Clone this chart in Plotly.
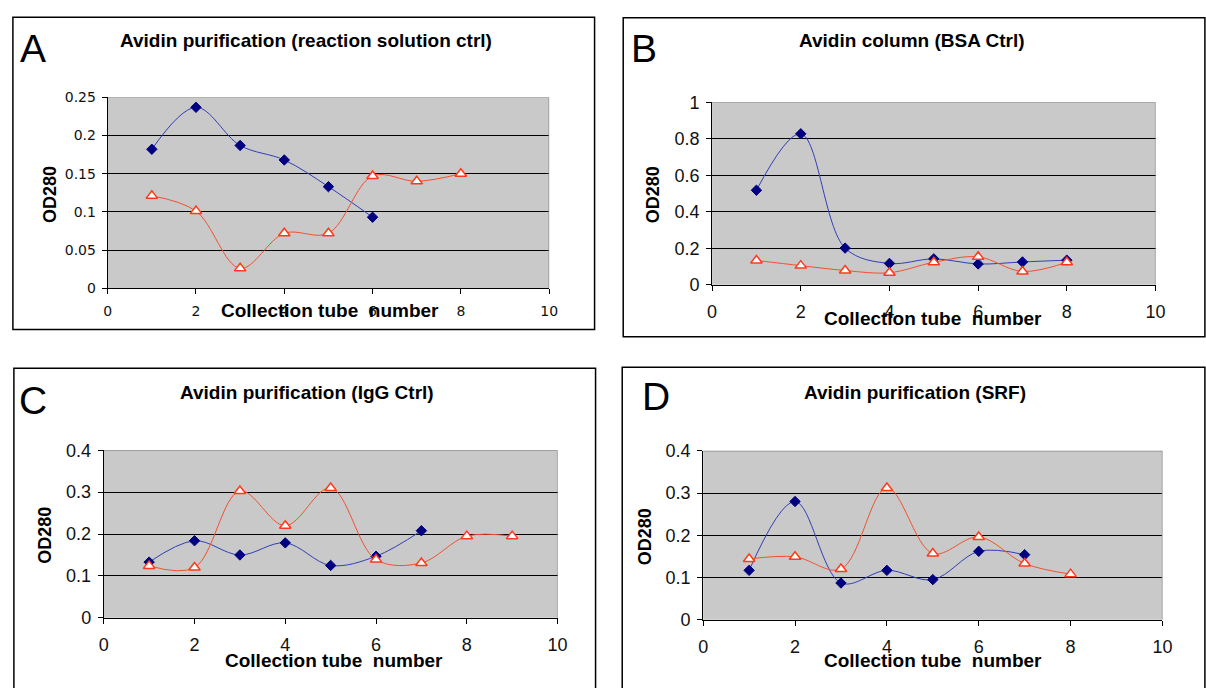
import plotly.graph_objects as go

W, H = 1206, 688

# ---------------- data ----------------
tubes_a_blue = [1, 2, 3, 4, 5, 6]
a_blue = [0.182, 0.237, 0.187, 0.168, 0.133, 0.093]
tubes_a_red = [1, 2, 3, 4, 5, 6, 7, 8]
a_red = [0.121, 0.101, 0.026, 0.072, 0.072, 0.147, 0.140, 0.150]

tubes_b = [1, 2, 3, 4, 5, 6, 7, 8]
b_blue = [0.518, 0.827, 0.201, 0.117, 0.142, 0.114, 0.125, 0.135]
b_red = [0.133, 0.105, 0.078, 0.066, 0.123, 0.153, 0.073, 0.123]

tubes_c_blue = [1, 2, 3, 4, 5, 6, 7]
c_blue = [0.133, 0.184, 0.150, 0.179, 0.125, 0.147, 0.208]
tubes_c_red = [1, 2, 3, 4, 5, 6, 7, 8, 9]
c_red = [0.124, 0.120, 0.303, 0.220, 0.310, 0.139, 0.131, 0.195, 0.195]

tubes_d_blue = [1, 2, 3, 4, 5, 6, 7]
d_blue = [0.117, 0.280, 0.087, 0.117, 0.095, 0.162, 0.154]
tubes_d_red = [1, 2, 3, 4, 5, 6, 7, 8]
d_red = [0.144, 0.149, 0.120, 0.312, 0.157, 0.196, 0.133, 0.108]

panel_letters = ["A", "B", "C", "D"]
panel_titles = ["Avidin purification (reaction solution ctrl)",
                "Avidin column (BSA Ctrl)",
                "Avidin purification (IgG Ctrl)",
                "Avidin purification (SRF)"]
x_title = "Collection tube&nbsp; number"
y_title = "OD280"
x_ticks = [0, 2, 4, 6, 8, 10]
y_ticks = [
    [0, 0.05, 0.1, 0.15, 0.2, 0.25],
    [0, 0.2, 0.4, 0.6, 0.8, 1],
    [0, 0.1, 0.2, 0.3, 0.4],
    [0, 0.1, 0.2, 0.3, 0.4],
]
y_tick_text = [
    ["0", "0.05", "0.1", "0.15", "0.2", "0.25"],
    ["0", "0.2", "0.4", "0.6", "0.8", "1"],
    ["0", "0.1", "0.2", "0.3", "0.4"],
    ["0", "0.1", "0.2", "0.3", "0.4"],
]

# ---------------- layout geometry (pixels) ----------------
# plot areas: left, right, top, bottom
areas = [
    (104, 551, 90, 286.5),
    (716, 1165, 95, 283),
    (100, 559.5, 453.5, 626),
    (707, 1172, 454, 628),
]
boxes = [
    (8, 597, 7.5, 329),
    (626, 1215, 8, 336.5),
    (9, 598, 369, 700),
    (625, 1215, 368, 700),
]

def px(x):
    return x / W

def py(y):
    return 1 - y / H

BLUE_M = "#000080"
BLUE_L = "#2F3FB5"
RED = "#FF3A1C"
RED_L = "#F2502E"
BG = "#C9C9C9"
FONT = "Liberation Sans"

fig = go.Figure()

series = [
    (tubes_a_blue, a_blue, tubes_a_red, a_red),
    (tubes_b, b_blue, tubes_b, b_red),
    (tubes_c_blue, c_blue, tubes_c_red, c_red),
    (tubes_d_blue, d_blue, tubes_d_red, d_red),
]

for i, (xb, yb, xr, yr) in enumerate(series):
    sfx = "" if i == 0 else str(i + 1)
    xa, ya = "x" + sfx, "y" + sfx
    fig.add_trace(go.Scatter(
        x=xb, y=yb, xaxis=xa, yaxis=ya, mode="lines+markers",
        line=dict(color=BLUE_L, width=1, shape="spline", smoothing=1.0),
        marker=dict(symbol="diamond", size=8, color=BLUE_M,
                    line=dict(color=BLUE_M, width=1)),
        showlegend=False, hoverinfo="skip"))
    fig.add_trace(go.Scatter(
        x=xr, y=yr, xaxis=xa, yaxis=ya, mode="lines+markers",
        line=dict(color=RED_L, width=1, shape="spline", smoothing=1.0),
        marker=dict(symbol="triangle-up", size=10, color="white",
                    line=dict(color=RED, width=1.5)),
        showlegend=False, hoverinfo="skip"))

layout = dict(
    width=W, height=H,
    margin=dict(l=0, r=0, t=0, b=0),
    paper_bgcolor="white",
    plot_bgcolor=BG,
    font=dict(family=FONT, color="black"),
)

shapes = []
annotations = []
letter_pos = [(13, 40), (632, 40), (12, 402), (643, 398)]
title_pos = [(304.5, 31), (918.6, 31), (306, 393.5), (921, 393.5)]
ytitle_pos = [(46, 190), (657, 190), (41, 541), (648, 542)]
xtitle_pos = [(329, 310), (940, 318), (333, 670), (940, 670)]

for i in range(4):
    sfx = "" if i == 0 else str(i + 1)
    l, r, t, b = areas[i]
    tick_size = 14 if i == 0 else 18
    tick_family = "DejaVu Sans" if i == 0 else FONT
    ymax = y_ticks[i][-1]
    layout["xaxis" + sfx] = dict(
        domain=[px(l), px(r)], anchor="y" + sfx, range=[0, 10],
        tickmode="array", tickvals=x_ticks, ticks="outside", ticklen=5,
        tickcolor="black", showline=True, linecolor="black", linewidth=1,
        showgrid=False, zeroline=False,
        ticklabelstandoff=5 if i == 0 else 6,
        tickfont=dict(size=tick_size, family=tick_family, color="#111"),
    )
    layout["yaxis" + sfx] = dict(
        domain=[py(b), py(t)], anchor="x" + sfx, range=[0, ymax],
        tickmode="array", tickvals=y_ticks[i], ticktext=y_tick_text[i],
        ticks="outside", ticklen=5, tickcolor="black",
        showline=True, linecolor="black", linewidth=1,
        showgrid=True, gridcolor="black", gridwidth=1, zeroline=False,
        ticklabelstandoff=3,
        tickfont=dict(size=tick_size, family=tick_family, color="#111"),
    )
    # plot area top / right edges (gray)
    shapes.append(dict(type="line", xref="x" + sfx, yref="y" + sfx,
                       x0=0, x1=10, y0=ymax, y1=ymax, layer="above",
                       line=dict(color="#8A8A8A", width=1.2)))
    shapes.append(dict(type="line", xref="x" + sfx, yref="y" + sfx,
                       x0=10, x1=10, y0=0, y1=ymax, layer="above",
                       line=dict(color="#8A8A8A", width=1.2)))
    # panel border
    bx0, bx1, by0, by1 = boxes[i]
    shapes.append(dict(type="rect", xref="paper", yref="paper",
                       x0=px(bx0), x1=px(bx1), y0=py(by1), y1=py(by0),
                       line=dict(color="black", width=1.5), layer="above"))
    lx, ly = letter_pos[i]
    annotations.append(dict(text=panel_letters[i], x=px(lx), y=py(ly),
                            xref="paper", yref="paper", xanchor="left",
                            yanchor="middle", showarrow=False,
                            font=dict(size=39, family=FONT, color="black")))
    tx, ty = title_pos[i]
    annotations.append(dict(text="<b>" + panel_titles[i] + "</b>", x=px(tx), y=py(ty),
                            xref="paper", yref="paper", xanchor="center",
                            yanchor="middle", showarrow=False,
                            font=dict(size=19, family=FONT, color="black")))
    yx, yy = ytitle_pos[i]
    annotations.append(dict(text="<b>" + y_title + "</b>", x=px(yx), y=py(yy),
                            xref="paper", yref="paper", xanchor="center",
                            yanchor="middle", showarrow=False, textangle=-90,
                            font=dict(size=18, family=FONT, color="black")))
    xx, xy = xtitle_pos[i]
    annotations.append(dict(text="<b>" + x_title + "</b>", x=px(xx), y=py(xy),
                            xref="paper", yref="paper", xanchor="center",
                            yanchor="middle", showarrow=False,
                            font=dict(size=19, family=FONT, color="black")))

layout["shapes"] = shapes
layout["annotations"] = annotations
fig.update_layout(**layout)
fig.write_html("out.html")
